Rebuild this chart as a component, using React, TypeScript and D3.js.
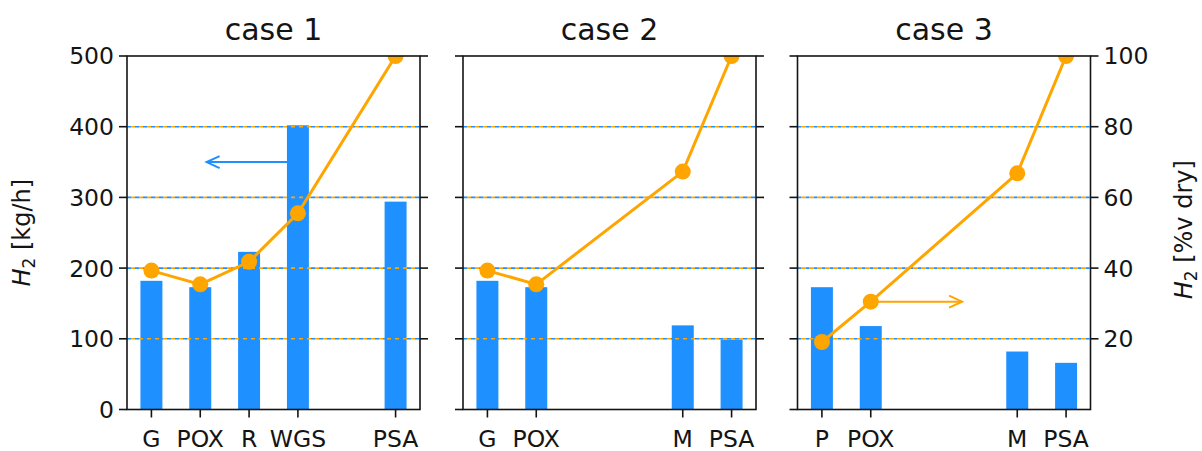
import React from "react";
import * as d3 from "d3";

const case1Labels = ["G", "POX", "R", "WGS", "PSA"];
const case1Pos = [0, 1, 2, 3, 5];
const case1Flow = [182, 173, 223, 402, 294];
const case1Conc = [39.3, 35.4, 41.8, 55.5, 100];

const case2Labels = ["G", "POX", "M", "PSA"];
const case2Pos = [0, 1, 4, 5];
const case2Flow = [182, 173, 119, 99];
const case2Conc = [39.3, 35.4, 67.3, 100];

const case3Labels = ["P", "POX", "M", "PSA"];
const case3Pos = [0, 1, 4, 5];
const case3Flow = [173, 118, 82, 66];
const case3Conc = [19.1, 30.5, 66.8, 100];

const titles = ["case 1", "case 2", "case 3"];
const leftTicks = [0, 100, 200, 300, 400, 500];
const rightTicks = [20, 40, 60, 80, 100];
const gridTicks = [100, 200, 300, 400];

const BLUE = "#1e90ff";
const ORANGE = "#ffa500";
const INK = "#141414";
const FONT = "DejaVu Sans, sans-serif";

const panels = [
  { left: 127, labels: case1Labels, pos: case1Pos, flow: case1Flow, conc: case1Conc, title: titles[0] },
  { left: 463, labels: case2Labels, pos: case2Pos, flow: case2Flow, conc: case2Conc, title: titles[1] },
  { left: 797.5, labels: case3Labels, pos: case3Pos, flow: case3Flow, conc: case3Conc, title: titles[2] },
];

const PW = 293;
const TOP = 56;
const BOTTOM = 409.5;
const BARW = 0.45;

const yL = d3.scaleLinear().domain([0, 500]).range([BOTTOM, TOP]);
const yR = d3.scaleLinear().domain([0, 100]).range([BOTTOM, TOP]);

function Arrow({ x1, y1, x2, y2, color }: { x1: number; y1: number; x2: number; y2: number; color: string }) {
  const dir = Math.sign(x2 - x1);
  const hl = 13;
  const hw = 6;
  return (
    <g stroke={color} strokeWidth={2} fill="none">
      <line x1={x1} y1={y1} x2={x2} y2={y2} />
      <polyline points={`${x2 - dir * hl},${y2 - hw} ${x2},${y2} ${x2 - dir * hl},${y2 + hw}`} />
    </g>
  );
}

function Panel({ p, idx }: { p: any; idx: number }) {
  const x = d3.scaleLinear().domain([-0.5, 5.5]).range([p.left, p.left + PW]);
  const line = d3
    .line<number>()
    .x((_, i) => x(p.pos[i]))
    .y((d) => yR(d));
  const clipId = `clip${idx}`;
  const cx = p.left + PW / 2;
  return (
    <g>
      <defs>
        <clipPath id={clipId}>
          <rect x={p.left} y={TOP} width={PW} height={BOTTOM - TOP} />
        </clipPath>
      </defs>
      {gridTicks.map((t) => (
        <line key={"gb" + t} x1={p.left} x2={p.left + PW} y1={yL(t)} y2={yL(t)} stroke={BLUE} strokeWidth={1.6} strokeDasharray="4,4" />
      ))}
      {p.flow.map((v: number, i: number) => (
        <rect key={"b" + i} x={x(p.pos[i] - BARW / 2)} width={x(BARW) - x(0)} y={yL(v)} height={yL(0) - yL(v)} fill={BLUE} />
      ))}
      {rightTicks.filter((t) => t < 100).map((t) => (
        <line key={"go" + t} x1={p.left} x2={p.left + PW} y1={yR(t)} y2={yR(t)} stroke={ORANGE} strokeWidth={1.6} strokeDasharray="4,4" strokeDashoffset={-4} />
      ))}
      <g clipPath={`url(#${clipId})`}>
        <path d={line(p.conc) || ""} fill="none" stroke={ORANGE} strokeWidth={3} />
        {p.conc.map((v: number, i: number) => (
          <circle key={"c" + i} cx={x(p.pos[i])} cy={yR(v)} r={8} fill={ORANGE} />
        ))}
      </g>
      {idx === 0 && <Arrow x1={x(2.78)} y1={yL(350)} x2={x(1.13)} y2={yL(350)} color={BLUE} />}
      {idx === 2 && <Arrow x1={x(1)} y1={yR(30.5)} x2={x(2.87)} y2={yR(30.5)} color={ORANGE} />}
      <rect x={p.left} y={TOP} width={PW} height={BOTTOM - TOP} fill="none" stroke={INK} strokeWidth={1.6} />
      {leftTicks.map((t) => (
        <g key={"lt" + t}>
          <line x1={p.left - 8} x2={p.left} y1={yL(t)} y2={yL(t)} stroke={INK} strokeWidth={1.6} />
          {idx === 0 && (
            <text x={p.left - 13} y={yL(t)} dy="0.36em" textAnchor="end" fontSize={23.5} fill={INK} fontFamily={FONT}>
              {t}
            </text>
          )}
        </g>
      ))}
      {rightTicks.map((t) => (
        <g key={"rt" + t}>
          <line x1={p.left + PW} x2={p.left + PW + 8} y1={yR(t)} y2={yR(t)} stroke={INK} strokeWidth={1.6} />
          {idx === 2 && (
            <text x={p.left + PW + 13} y={yR(t)} dy="0.36em" textAnchor="start" fontSize={23.5} fill={INK} fontFamily={FONT}>
              {t}
            </text>
          )}
        </g>
      ))}
      {p.labels.map((l: string, i: number) => (
        <g key={"xt" + i}>
          <line x1={x(p.pos[i])} x2={x(p.pos[i])} y1={BOTTOM} y2={BOTTOM + 8} stroke={INK} strokeWidth={1.6} />
          <text x={x(p.pos[i])} y={446.5} textAnchor="middle" fontSize={23.5} fill={INK} fontFamily={FONT}>
            {l}
          </text>
        </g>
      ))}
      <text x={cx} y={40} textAnchor="middle" fontSize={30} fill={INK} fontFamily={FONT}>
        {p.title}
      </text>
    </g>
  );
}

export default function App() {
  const midY = (TOP + BOTTOM) / 2;
  return (
    <svg width={1202} height={451} style={{ position: "absolute", left: 0, top: 0, background: "#fff" }} fontFamily={FONT}>
      <rect width={1202} height={451} fill="#fff" />
      {panels.map((p, i) => (
        <Panel key={i} p={p} idx={i} />
      ))}
      <text transform={`translate(30,${midY}) rotate(-90)`} textAnchor="middle" fontSize={24} fill={INK}>
        <tspan fontStyle="italic">H</tspan>
        <tspan fontSize={17} dy={5}>2</tspan>
        <tspan dy={-5}> [kg/h]</tspan>
      </text>
      <text transform={`translate(1192,${midY - 3}) rotate(-90)`} textAnchor="middle" fontSize={24} fill={INK}>
        <tspan fontStyle="italic">H</tspan>
        <tspan fontSize={17} dy={5}>2</tspan>
        <tspan dy={-5}> [%v dry]</tspan>
      </text>
    </svg>
  );
}
